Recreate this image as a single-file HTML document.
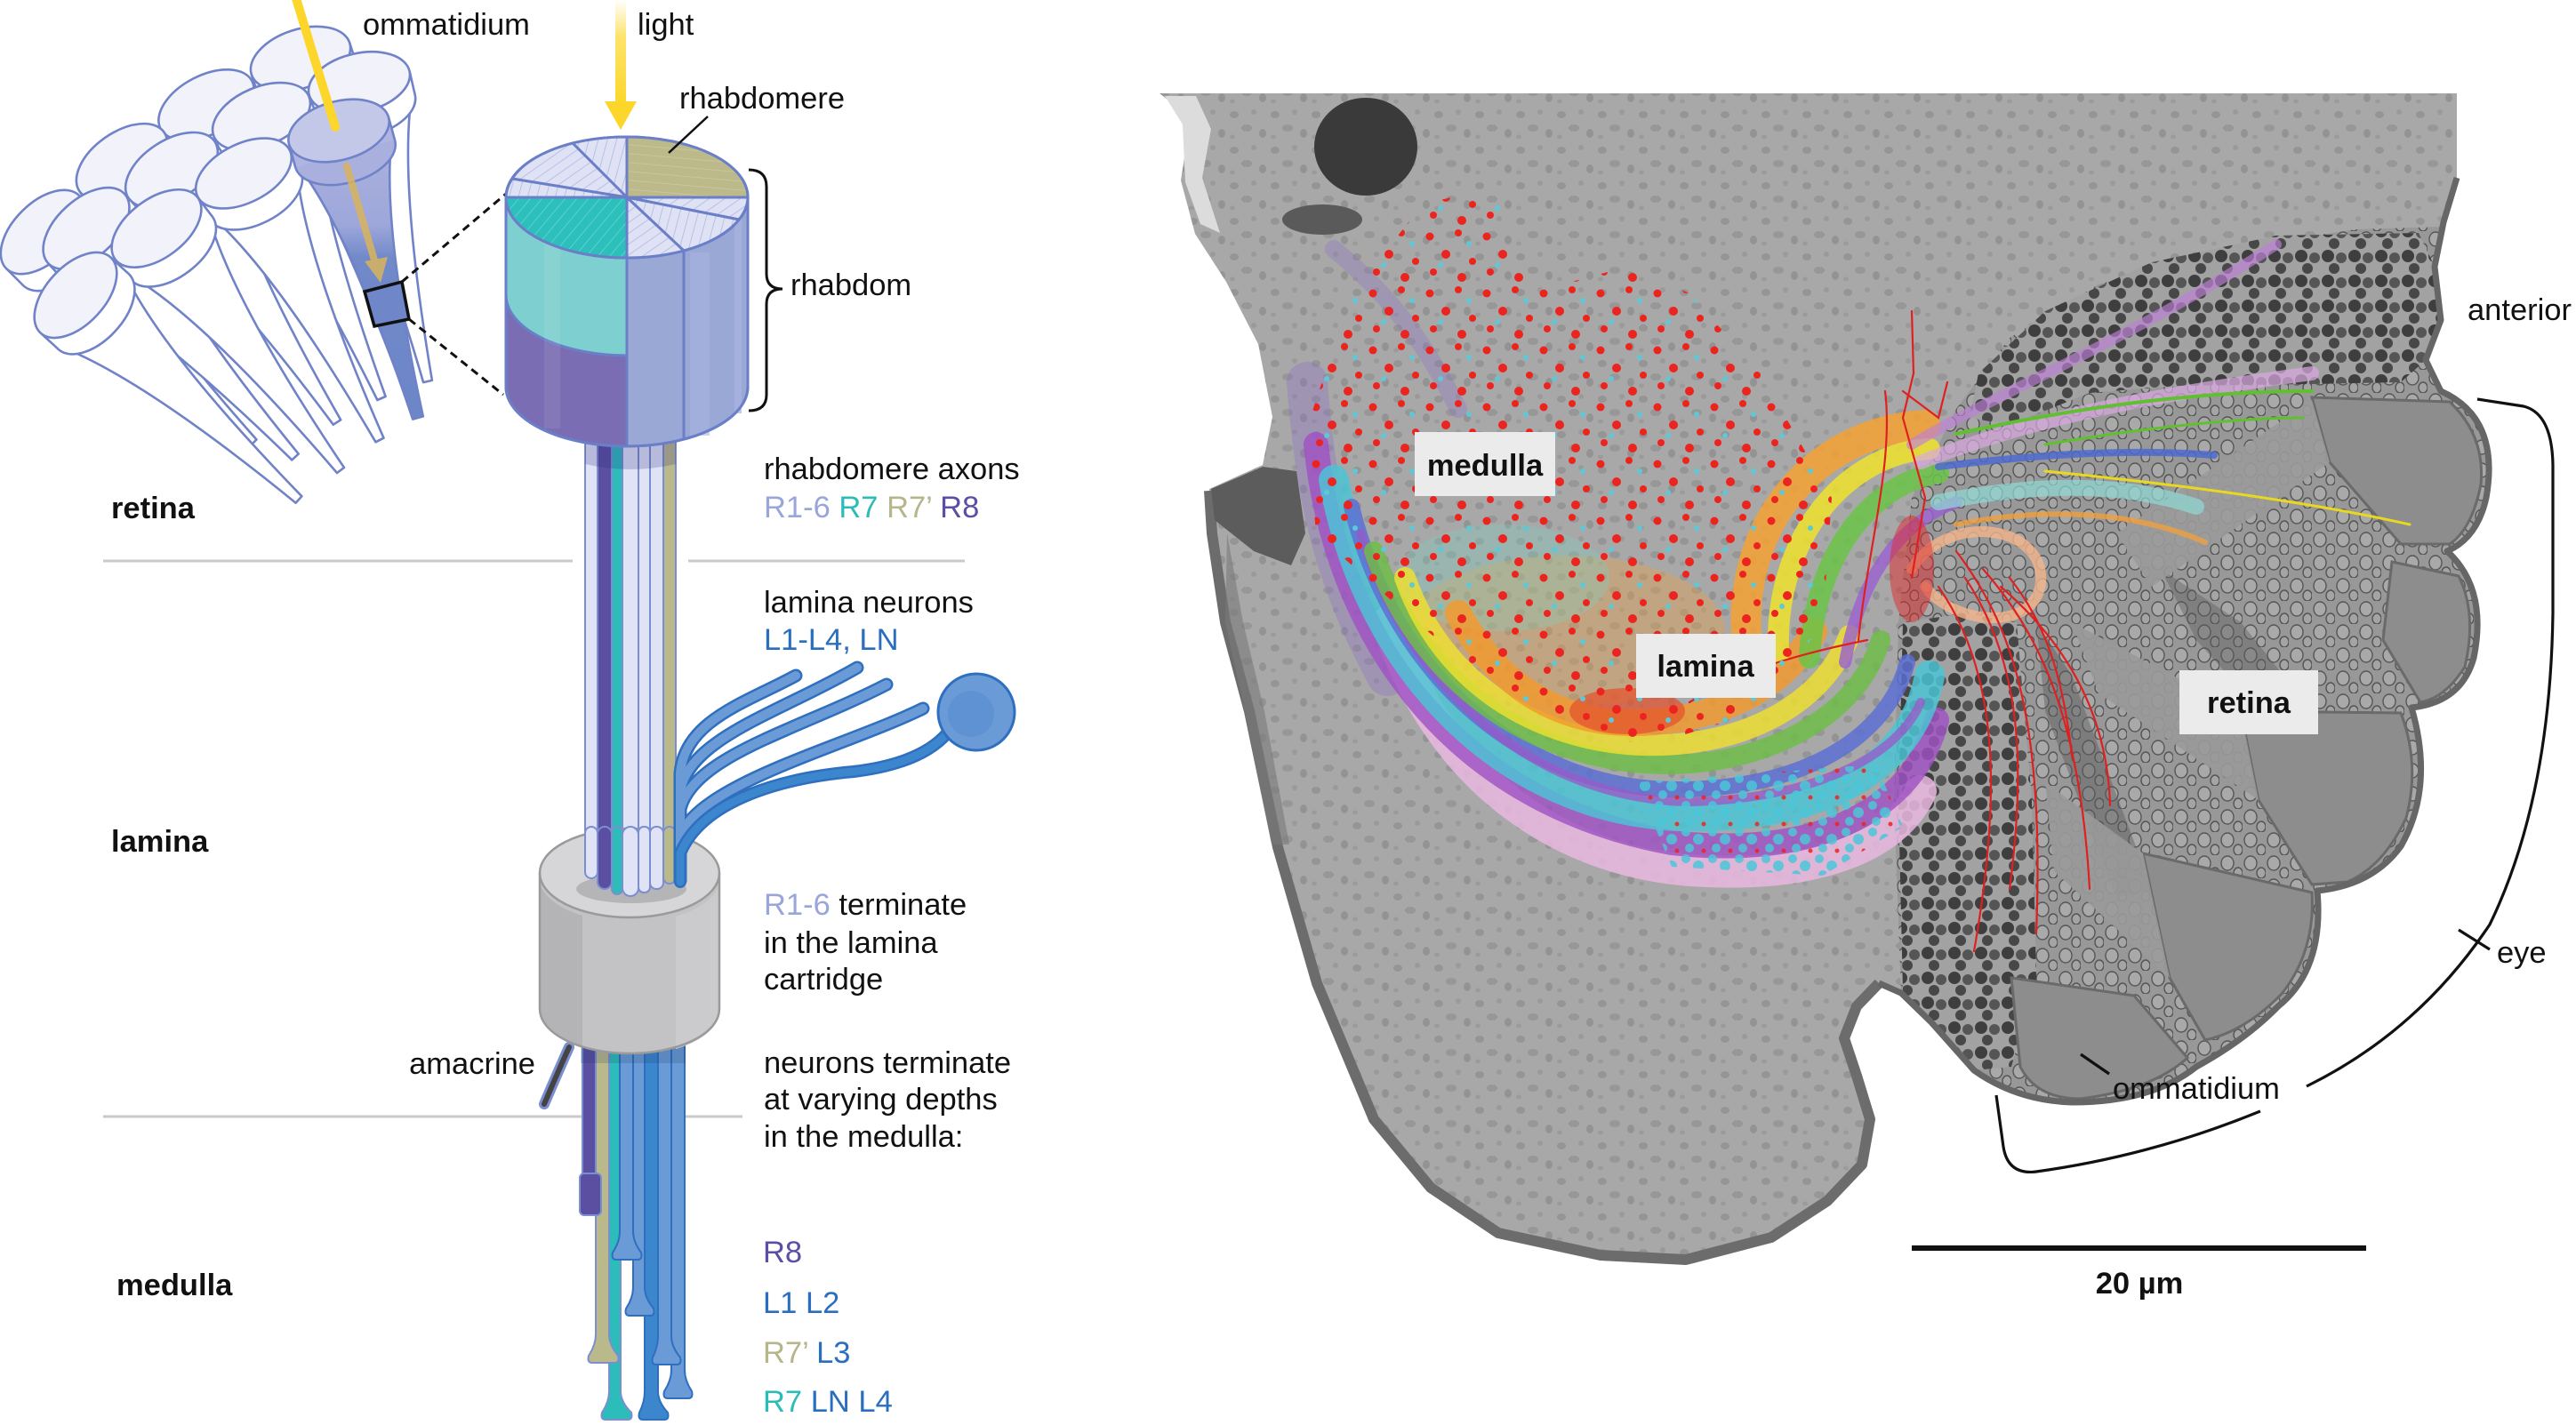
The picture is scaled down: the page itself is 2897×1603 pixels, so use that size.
<!DOCTYPE html>
<html><head><meta charset="utf-8"><style>
html,body{margin:0;padding:0;background:#fff;}
svg{display:block;}
text{font-family:"Liberation Sans",Arial,sans-serif;font-size:34.5px;fill:#111;}
.b{font-weight:bold;}
</style></head><body>
<svg width="2897" height="1603" viewBox="0 0 2897 1603" xmlns="http://www.w3.org/2000/svg">
<defs>
<pattern id="hatch" width="10" height="10" patternUnits="userSpaceOnUse" patternTransform="rotate(55)">
<rect width="10" height="10" fill="#dfe2f4"/><line x1="0" y1="0" x2="0" y2="10" stroke="#b9c0e6" stroke-width="2"/></pattern>
<pattern id="hatch2" width="10" height="10" patternUnits="userSpaceOnUse" patternTransform="rotate(15)">
<rect width="10" height="10" fill="#dfe2f4"/><line x1="0" y1="0" x2="0" y2="10" stroke="#b9c0e6" stroke-width="2"/></pattern>
<pattern id="hatchT" width="10" height="10" patternUnits="userSpaceOnUse" patternTransform="rotate(40)">
<rect width="10" height="10" fill="#2dbfbb"/><line x1="0" y1="0" x2="0" y2="10" stroke="#5cd0cb" stroke-width="2"/></pattern>
<pattern id="hatchO" width="10" height="10" patternUnits="userSpaceOnUse" patternTransform="rotate(95)">
<rect width="10" height="10" fill="#bcba8b"/><line x1="0" y1="0" x2="0" y2="10" stroke="#c8c69b" stroke-width="2"/></pattern>
<linearGradient id="lightg" x1="0" y1="0" x2="0" y2="1">
<stop offset="0" stop-color="#fff"/><stop offset="0.35" stop-color="#fde36a"/><stop offset="1" stop-color="#fcd62a"/></linearGradient>
<linearGradient id="blueOm" x1="0" y1="160" x2="0" y2="470" gradientUnits="userSpaceOnUse">
<stop offset="0" stop-color="#aab1de"/><stop offset="0.3" stop-color="#9ea7da"/><stop offset="0.42" stop-color="#7189c9"/><stop offset="1" stop-color="#6c86c8"/></linearGradient>
<pattern id="emtex" width="46" height="40" patternUnits="userSpaceOnUse">
<ellipse cx="8" cy="9" rx="5" ry="4" fill="#7d7d7d"/><ellipse cx="30" cy="6" rx="3" ry="3" fill="#888"/>
<ellipse cx="22" cy="24" rx="6" ry="4" fill="#828282"/><ellipse cx="40" cy="30" rx="4" ry="5" fill="#7a7a7a"/>
<ellipse cx="6" cy="34" rx="3" ry="2.5" fill="#8a8a8a"/></pattern>
<pattern id="reddots" width="64" height="64" patternUnits="userSpaceOnUse">
<circle cx="8" cy="10" r="4.5" fill="#ec2420"/><circle cx="40" cy="6" r="4" fill="#ec2420"/>
<circle cx="26" cy="30" r="5" fill="#ec2420"/><circle cx="56" cy="38" r="4" fill="#ec2420"/>
<circle cx="12" cy="50" r="4" fill="#ec2420"/><circle cx="44" cy="56" r="5" fill="#ec2420"/>
<circle cx="52" cy="18" r="3" fill="#5cc8d8"/><circle cx="20" cy="42" r="3" fill="#5cc8d8"/></pattern>
<pattern id="cyandots" width="30" height="30" patternUnits="userSpaceOnUse">
<circle cx="6" cy="6" r="5" fill="#4cc6d8"/><circle cx="20" cy="14" r="6" fill="#4cc6d8"/><circle cx="10" cy="24" r="5" fill="#4cc6d8"/><circle cx="26" cy="27" r="2.5" fill="#ec2420"/></pattern>
<pattern id="pig" width="30" height="28" patternUnits="userSpaceOnUse">
<rect width="30" height="28" fill="#a2a2a2"/>
<circle cx="8" cy="8" r="7" fill="#3e3e3e"/><circle cx="23" cy="10" r="6" fill="#555"/><circle cx="15" cy="22" r="6" fill="#474747"/></pattern>
<pattern id="cells" width="26" height="26" patternUnits="userSpaceOnUse">
<rect width="26" height="26" fill="#989898"/>
<ellipse cx="9" cy="9" rx="7" ry="8" fill="#a9a9a9" stroke="#555" stroke-width="1.4"/>
<ellipse cx="21" cy="20" rx="5" ry="6" fill="#a4a4a4" stroke="#555" stroke-width="1.4"/></pattern>
</defs>

<!-- ================= LEFT PANEL ================= -->
<g stroke="#cacaca" stroke-width="3">
<line x1="116" y1="631" x2="644" y2="631"/><line x1="774" y1="631" x2="1085" y2="631"/>
<line x1="116" y1="1256" x2="655" y2="1256"/><line x1="770" y1="1256" x2="835" y2="1256"/>
</g>

<!-- ommatidia cluster -->
<g stroke="#7083c8" stroke-width="2.6" stroke-linejoin="round">
<!-- A -->
<g>
<path d="M295.6,110.4 Q360.1,193.7 445.2,416.5 L454.8,413.5 Q394.3,182.7 398.4,77.4 Z" fill="#fff"/>
<ellipse cx="347" cy="93.9" rx="58" ry="33" transform="rotate(-18 347 93.9)" fill="#fff"/>
<polygon points="282.8,83.7 291.8,111.6 402.2,76.2 393.2,48.3" fill="#fff" stroke="none"/>
<line x1="282.8" y1="83.7" x2="291.8" y2="111.6"/><line x1="393.2" y1="48.3" x2="402.2" y2="76.2"/>
<ellipse cx="338" cy="66" rx="58" ry="33" transform="rotate(-18 338 66)" fill="#f2f3fa"/>
</g>
<!-- B -->
<g>
<path d="M357.5,131.9 Q413.4,214.6 476.1,430.1 L485.9,427.9 Q448.6,206.6 462.9,107.9 Z" fill="#fff"/>
<ellipse cx="410.2" cy="119.9" rx="58" ry="33" transform="rotate(-13 410.2 119.9)" fill="#fff"/>
<polygon points="347.4,105.9 353.6,132.8 466.8,107 460.6,80.1" fill="#fff" stroke="none"/>
<line x1="347.4" y1="105.9" x2="353.6" y2="132.8"/><line x1="460.6" y1="80.1" x2="466.8" y2="107"/>
<ellipse cx="404" cy="93" rx="58" ry="33" transform="rotate(-13 404 93)" fill="#f2f3fa"/>
</g>
<!-- C -->
<g>
<path d="M197.5,168.8 Q274.8,239 395.6,442.3 L404.4,437.7 Q306.8,222.4 293.3,118.8 Z" fill="#fff"/>
<ellipse cx="245.4" cy="143.8" rx="58" ry="33" transform="rotate(-27.6 245.4 143.8)" fill="#fff"/>
<polygon points="180.6,144.9 194,170.7 296.8,116.9 283.4,91.1" fill="#fff" stroke="none"/>
<line x1="180.6" y1="144.9" x2="194" y2="170.7"/><line x1="283.4" y1="91.1" x2="296.8" y2="116.9"/>
<ellipse cx="232" cy="118" rx="58" ry="33" transform="rotate(-27.6 232 118)" fill="#f2f3fa"/>
</g>
<!-- D -->
<g>
<path d="M255.1,177.6 Q324.7,249.1 424.4,450 L433.6,446 Q357.9,234.9 354.5,135.2 Z" fill="#fff"/>
<ellipse cx="304.8" cy="156.4" rx="58" ry="33" transform="rotate(-23 304.8 156.4)" fill="#fff"/>
<polygon points="240.6,153.7 251.4,179.1 358.2,133.7 347.4,108.3" fill="#fff" stroke="none"/>
<line x1="240.6" y1="153.7" x2="251.4" y2="179.1"/><line x1="347.4" y1="108.3" x2="358.2" y2="133.7"/>
<ellipse cx="294" cy="131" rx="58" ry="33" transform="rotate(-23 294 131)" fill="#f2f3fa"/>
</g>
<!-- F -->
<g>
<path d="M109.1,236.1 Q193.3,293.2 335.9,472.9 L344.1,467.1 Q222.7,272.4 197.3,173.9 Z" fill="#fff"/>
<ellipse cx="153.2" cy="205" rx="58" ry="33" transform="rotate(-35 153.2 205)" fill="#fff"/>
<polygon points="89.6,215.4 105.8,238.4 200.6,171.6 184.4,148.6" fill="#fff" stroke="none"/>
<line x1="89.6" y1="215.4" x2="105.8" y2="238.4"/><line x1="184.4" y1="148.6" x2="200.6" y2="171.6"/>
<ellipse cx="137" cy="182" rx="58" ry="33" transform="rotate(-35 137 182)" fill="#f2f3fa"/>
</g>
<!-- G -->
<g>
<path d="M162.7,243.3 Q243,300.3 374.8,477.7 L383.2,472.3 Q273.2,280.5 253.1,184.1 Z" fill="#fff"/>
<ellipse cx="207.9" cy="213.7" rx="58" ry="33" transform="rotate(-33 207.9 213.7)" fill="#fff"/>
<polygon points="144.5,222.8 159.4,245.5 256.4,181.9 241.5,159.2" fill="#fff" stroke="none"/>
<line x1="144.5" y1="222.8" x2="159.4" y2="245.5"/><line x1="241.5" y1="159.2" x2="256.4" y2="181.9"/>
<ellipse cx="193" cy="191" rx="58" ry="33" transform="rotate(-33 193 191)" fill="#f2f3fa"/>
</g>
<!-- H -->
<g>
<path d="M238.1,243.5 Q311.6,308.2 422.5,497.3 L431.5,492.7 Q343.6,291.8 334.3,194.5 Z" fill="#fff"/>
<ellipse cx="286.2" cy="219" rx="58" ry="33" transform="rotate(-27 286.2 219)" fill="#fff"/>
<polygon points="222.3,221.3 234.5,245.3 337.9,192.7 325.7,168.7" fill="#fff" stroke="none"/>
<line x1="222.3" y1="221.3" x2="234.5" y2="245.3"/><line x1="325.7" y1="168.7" x2="337.9" y2="192.7"/>
<ellipse cx="274" cy="195" rx="58" ry="33" transform="rotate(-27 274 195)" fill="#f2f3fa"/>
</g>
<!-- E blue -->
<g>
<path d="M336,187.2 Q394.8,264.8 464.2,471.6 L475.8,468.4 Q429.6,255.2 440.2,158.4 Z" fill="url(#blueOm)"/>
<ellipse cx="388.1" cy="172.8" rx="58" ry="33" transform="rotate(-15 388.1 172.8)" fill="#a9b0de"/>
<polygon points="325.1,162.4 332.2,188.2 444,157.4 436.9,131.6" fill="#afb5e0" stroke="none"/>
<line x1="325.1" y1="162.4" x2="332.2" y2="188.2"/><line x1="436.9" y1="131.6" x2="444" y2="157.4"/>
<ellipse cx="381" cy="147" rx="58" ry="33" transform="rotate(-15 381 147)" fill="#c3c8e8"/>
</g>
<!-- I -->
<g>
<path d="M28.8,318.2 Q118.3,356.7 281.5,501.5 L288.5,494.5 Q143.7,331.3 105.2,241.8 Z" fill="#fff"/>
<ellipse cx="67" cy="280" rx="58" ry="33" transform="rotate(-45 67 280)" fill="#fff"/>
<polygon points="7,302 26,321 108,239 89,220" fill="#fff" stroke="none"/>
<line x1="7" y1="302" x2="26" y2="321"/><line x1="89" y1="220" x2="108" y2="239"/>
<ellipse cx="48" cy="261" rx="58" ry="33" transform="rotate(-45 48 261)" fill="#f2f3fa"/>
</g>
<!-- J -->
<g>
<path d="M75.9,314.1 Q166,359.2 328.3,517.4 L335.7,510.6 Q192.6,334.8 155.7,241.1 Z" fill="#fff"/>
<ellipse cx="115.8" cy="277.6" rx="58" ry="33" transform="rotate(-42 115.8 277.6)" fill="#fff"/>
<polygon points="54.2,296.2 73,316.8 158.6,238.4 139.8,217.8" fill="#fff" stroke="none"/>
<line x1="54.2" y1="296.2" x2="73" y2="316.8"/><line x1="139.8" y1="217.8" x2="158.6" y2="238.4"/>
<ellipse cx="97" cy="257" rx="58" ry="33" transform="rotate(-42 97 257)" fill="#f2f3fa"/>
</g>
<!-- K -->
<g>
<path d="M149.6,311.5 Q234.2,363.1 379,532 L387,526 Q262.8,341.3 235.6,246.1 Z" fill="#fff"/>
<ellipse cx="192.6" cy="278.8" rx="58" ry="33" transform="rotate(-37 192.6 278.8)" fill="#fff"/>
<polygon points="129.8,292.1 146.4,313.9 238.8,243.7 222.2,221.9" fill="#fff" stroke="none"/>
<line x1="129.8" y1="292.1" x2="146.4" y2="313.9"/><line x1="222.2" y1="221.9" x2="238.8" y2="243.7"/>
<ellipse cx="176" cy="257" rx="58" ry="33" transform="rotate(-37 176 257)" fill="#f2f3fa"/>
</g>
<!-- L -->
<g>
<path d="M68.6,390.2 Q160.7,425.8 332.6,565.7 L339.4,558.3 Q185.1,399.2 141.6,310.6 Z" fill="#fff"/>
<ellipse cx="105.1" cy="350.4" rx="58" ry="33" transform="rotate(-47 105.1 350.4)" fill="#fff"/>
<polygon points="45.8,374.7 65.9,393.1 144.3,307.7 124.2,289.3" fill="#fff" stroke="none"/>
<line x1="45.8" y1="374.7" x2="65.9" y2="393.1"/><line x1="124.2" y1="289.3" x2="144.3" y2="307.7"/>
<ellipse cx="85" cy="332" rx="58" ry="33" transform="rotate(-47 85 332)" fill="#f2f3fa"/>
</g>
</g>
<!-- light ray into ommatidium -->
<line x1="332" y1="-5" x2="377" y2="143" stroke="#fcd62a" stroke-width="10" stroke-linecap="round"/>
<g opacity="0.85">
<line x1="390" y1="187" x2="422" y2="296" stroke="#d9b45c" stroke-width="8" stroke-linecap="round"/>
<polygon points="410,294 436,289 428,318" fill="#d9b45c"/>
</g>
<polygon points="410,328 452,317 460,359 421,367" fill="#6f86c8" stroke="#111" stroke-width="3.5"/>
<g stroke="#111" stroke-width="3" stroke-dasharray="9,6">
<line x1="452" y1="317" x2="569" y2="218"/><line x1="460" y1="359" x2="566" y2="444"/>
</g>

<!-- light arrow -->
<rect x="692" y="0" width="12" height="118" fill="url(#lightg)"/>
<polygon points="680,114 716,114 698,146" fill="#fcd62a"/>

<!-- axon bundle (upper) -->
<g stroke="#7a8ed0" stroke-width="2">
<rect x="658" y="470" width="14" height="518" rx="7" fill="#e0e3f5"/>
<rect x="672" y="470" width="16" height="530" rx="8" fill="#5a4fa0"/>
<rect x="688" y="470" width="12" height="536" rx="6" fill="#2cbdbb"/>
<rect x="700" y="470" width="18" height="538" rx="9" fill="#e0e3f5"/>
<rect x="718" y="470" width="13" height="534" rx="6" fill="#e0e3f5"/>
<rect x="731" y="470" width="15" height="530" rx="7" fill="#e0e3f5"/>
<rect x="746" y="470" width="14" height="524" rx="7" fill="#bab98b"/>
</g>
<path d="M658,498 L760,498 L760,522 Q709,534 658,522 Z" fill="#2b2b80" opacity="0.22"/>

<!-- rhabdom cylinder -->
<g stroke="#6a7fc8" stroke-width="3" stroke-linejoin="round">
<path d="M705,290 A136,68 0 0,0 841,222 L841,435 A136,67 0 0,1 705,502 Z" fill="#9aa8d6"/>
<path d="M569,222 A136,68 0 0,0 705,290 L705,400 A136,68 0 0,1 569,332 Z" fill="#7ecfcf"/>
<path d="M569,332 A136,68 0 0,0 705,400 L705,502 A136,67 0 0,1 569,435 Z" fill="#7a6db3"/>
</g>
<rect x="776" y="284" width="22" height="206" fill="#a9b4df" opacity="0.6"/>
<rect x="826" y="245" width="8" height="220" fill="#a9b4df" opacity="0.7"/>
<rect x="612" y="272" width="18" height="210" fill="#ffffff" opacity="0.08"/>
<g stroke="#6a7fc8" stroke-width="3" fill="none">
<line x1="769" y1="282" x2="769" y2="494"/>
<path d="M569,222 A136,68 0 0,1 841,222 L841,435 A136,67 0 0,1 569,435 Z"/>
</g>
<g stroke="#6a7fc8" stroke-width="3" stroke-linejoin="round">
<path d="M705,222 L705,154 A136,68 0 0,1 841,222 Z" fill="url(#hatchO)"/>
<path d="M705,222 L569,222 A136,68 0 0,0 705,290 Z" fill="url(#hatchT)"/>
<path d="M705,222 L705,154 A136,68 0 0,0 644,161 Z" fill="url(#hatch2)"/>
<path d="M705,222 L644,161 A136,68 0 0,0 576,201 Z" fill="url(#hatch)"/>
<path d="M705,222 L576,201 A136,68 0 0,0 569,222 Z" fill="url(#hatch2)"/>
<path d="M705,222 L841,222 A136,68 0 0,1 831,247 Z" fill="url(#hatch)"/>
<path d="M705,222 L831,247 A136,68 0 0,1 769,282 Z" fill="url(#hatch2)"/>
<path d="M705,222 L769,282 A136,68 0 0,1 705,290 Z" fill="url(#hatch)"/>
</g>
<line x1="796" y1="131" x2="752" y2="172" stroke="#111" stroke-width="2.5"/>
<path d="M842,191 Q862,191 862,210 L862,308 Q862,325 880,325 M880,325 Q862,325 862,342 L862,444 Q862,462 842,462" fill="none" stroke="#111" stroke-width="3"/>

<!-- medulla strands -->
<path d="M640,1178 Q630,1200 612,1242" fill="none" stroke="#7a8ed0" stroke-width="12" stroke-linecap="round"/>
<path d="M640,1178 Q630,1200 612,1242" fill="none" stroke="#444" stroke-width="6" stroke-linecap="round"/>
<g stroke="#2f6fc0" stroke-width="2" stroke-linejoin="round">
<path d="M685,1100 L685,1565 Q685,1577 677,1589 Q675,1597 681,1597 L706,1597 Q712,1597 710,1589 Q698,1577 698,1565 L698,1100 Z" fill="#2cbdbb" stroke="#7a8ed0"/>
<path d="M725,1100 L725,1565 Q725,1577 719,1589 Q717,1597 723,1597 L747,1597 Q753,1597 751,1589 Q740,1577 740,1565 L740,1100 Z" fill="#3b86cc"/>
<path d="M755,1100 L755,1541 Q755,1553 747,1565 Q745,1573 751,1573 L774,1573 Q780,1573 778,1565 Q770,1553 770,1541 L770,1100 Z" fill="#6b9bd6"/>
<path d="M740,1100 L740,1503 Q740,1515 734,1527 Q732,1535 738,1535 L761,1535 Q767,1535 765,1527 Q755,1515 755,1503 L755,1100 Z" fill="#6b9bd6"/>
<path d="M670,1100 L670,1501 Q670,1513 662,1525 Q660,1533 666,1533 L691,1533 Q697,1533 695,1525 Q685,1513 685,1501 L685,1100 Z" fill="#bab98b" stroke="#7a8ed0"/>
<path d="M712,1100 L712,1448 Q712,1460 704,1472 Q702,1480 708,1480 L731,1480 Q737,1480 735,1472 Q725,1460 725,1448 L725,1100 Z" fill="#6b9bd6"/>
<path d="M697,1100 L697,1385 Q697,1397 689,1409 Q687,1417 693,1417 L717,1417 Q723,1417 721,1409 Q712,1397 712,1385 L712,1100 Z" fill="#6b9bd6"/>
<path d="M655,1100 L655,1322 L670,1322 L670,1100 Z" fill="#5a4fa0" stroke="#7a8ed0"/>
<rect x="652" y="1320" width="24" height="47" rx="5" fill="#5a4fa0" stroke="#7a8ed0"/>
</g>
<rect x="653" y="1150" width="118" height="46" fill="#1a3060" opacity="0.18"/>

<!-- lamina cartridge -->
<path d="M607,982 L607,1135 A101,50 0 0,0 809,1135 L809,982 Z" fill="#c3c3c5"/>
<path d="M607,982 L607,1135 A101,50 0 0,0 655,1178 L655,1030 A101,50 0 0,1 607,982 Z" fill="#b4b4b6"/>
<path d="M760,1031 L760,1180 A101,50 0 0,0 809,1135 L809,982 A101,50 0 0,1 760,1031 Z" fill="#cbcbcd"/>
<path d="M607,982 L607,1135 A101,50 0 0,0 809,1135 L809,982" fill="none" stroke="#9a9a9a" stroke-width="2.5"/>
<ellipse cx="708" cy="982" rx="101" ry="50" fill="#d6d6d8" stroke="#9a9a9a" stroke-width="2.5"/>
<ellipse cx="710" cy="1000" rx="62" ry="16" fill="#b5b5b7"/>

<g stroke="#7a8ed0" stroke-width="2">
<rect x="658" y="930" width="14" height="58" rx="7" fill="#e0e3f5"/>
<rect x="672" y="930" width="16" height="70" rx="8" fill="#5a4fa0"/>
<rect x="688" y="930" width="12" height="76" rx="6" fill="#2cbdbb"/>
<rect x="700" y="930" width="18" height="78" rx="9" fill="#e0e3f5"/>
<rect x="718" y="930" width="13" height="74" rx="6" fill="#e0e3f5"/>
<rect x="731" y="930" width="15" height="70" rx="7" fill="#e0e3f5"/>
<rect x="746" y="930" width="14" height="64" rx="7" fill="#bab98b"/>
</g>

<!-- lamina neuron tubes -->
<g fill="none" stroke-linecap="round">
<g stroke="#2f6fc0" stroke-width="15">
<path d="M765,990 L765,870 C770,810 840,790 895,760"/>
<path d="M765,990 L765,890 C775,830 880,800 964,751"/>
<path d="M765,990 L765,910 C780,850 900,820 997,770"/>
<path d="M765,990 L765,940 C790,880 950,840 1038,797"/>
</g>
<g stroke="#6b9bd6" stroke-width="10">
<path d="M765,990 L765,870 C770,810 840,790 895,760"/>
<path d="M765,990 L765,890 C775,830 880,800 964,751"/>
<path d="M765,990 L765,910 C780,850 900,820 997,770"/>
<path d="M765,990 L765,940 C790,880 950,840 1038,797"/>
</g>
<path d="M765,992 L765,960 C790,900 880,875 960,868 C1010,862 1045,848 1065,825" stroke="#2f6fc0" stroke-width="14"/>
<path d="M765,992 L765,960 C790,900 880,875 960,868 C1010,862 1045,848 1065,825" stroke="#3b86cc" stroke-width="9"/>
</g>
<circle cx="1098" cy="801" r="43" fill="#6b9bd6" stroke="#2f6fc0" stroke-width="3"/>
<circle cx="1092" cy="803" r="26" fill="#5f92d2"/>

<!-- left text -->
<text x="408" y="39">ommatidium</text>
<text x="717" y="39">light</text>
<text x="764" y="122">rhabdomere</text>
<text x="889" y="332">rhabdom</text>
<text x="125" y="583" class="b">retina</text>
<text x="859" y="539">rhabdomere axons</text>
<text x="859" y="582"><tspan style="fill:#9aa5d9">R1-6</tspan> <tspan style="fill:#2cbcb8">R7</tspan> <tspan style="fill:#b6b58c">R7’</tspan> <tspan style="fill:#5b4ea6">R8</tspan></text>
<text x="859" y="689">lamina neurons</text>
<text x="859" y="731" style="fill:#2a6ebf">L1-L4, LN</text>
<text x="125" y="958" class="b">lamina</text>
<text x="859" y="1029"><tspan style="fill:#9aa5d9">R1-6</tspan> terminate</text>
<text x="859" y="1072">in the lamina</text>
<text x="859" y="1113">cartridge</text>
<text x="602" y="1208" text-anchor="end">amacrine</text>
<text x="859" y="1207">neurons terminate</text>
<text x="859" y="1248">at varying depths</text>
<text x="859" y="1290">in the medulla:</text>
<text x="131" y="1457" class="b">medulla</text>
<text x="858" y="1420" style="fill:#5b4ea6">R8</text>
<text x="858" y="1477" style="fill:#2a6ebf">L1 L2</text>
<text x="858" y="1533"><tspan style="fill:#b6b58c">R7’</tspan> <tspan style="fill:#2a6ebf">L3</tspan></text>
<text x="858" y="1588"><tspan style="fill:#2cbcb8">R7</tspan> <tspan style="fill:#2a6ebf">LN L4</tspan></text>

<!-- ================= RIGHT PANEL (EM) ================= -->
<path d="M1304,105 L2763,105 L2763,200 L2748,250 L2738,300 L2745,360 L2728,405 L2745,440 Q2812,470 2796,560 Q2786,605 2752,620 Q2798,662 2782,740 Q2768,790 2712,796 Q2738,885 2700,952 Q2668,996 2606,1002 Q2614,1090 2562,1132 Q2525,1170 2470,1200 Q2420,1240 2330,1240 Q2268,1238 2220,1204 L2172,1150 L2138,1117 L2113,1106 L2088,1132 L2074,1168 L2088,1210 L2103,1259 L2094,1310 L2055,1351 L1992,1392 L1896,1417 L1800,1412 L1685,1387 L1609,1336 L1545,1259 L1481,1106 L1437,953 L1405,800 L1378,700 L1363,600 L1360,550 L1420,523 L1431,469 L1415,387 L1379,317 L1344,263 L1328,203 L1339,133 Z" fill="#a8a8a8"/>
<path d="M1304,105 L2763,105 L2763,200 L2748,250 L2738,300 L2745,360 L2728,405 L2745,440 Q2812,470 2796,560 Q2786,605 2752,620 Q2798,662 2782,740 Q2768,790 2712,796 Q2738,885 2700,952 Q2668,996 2606,1002 Q2614,1090 2562,1132 Q2525,1170 2470,1200 Q2420,1240 2330,1240 Q2268,1238 2220,1204 L2172,1150 L2138,1117 L2113,1106 L2088,1132 L2074,1168 L2088,1210 L2103,1259 L2094,1310 L2055,1351 L1992,1392 L1896,1417 L1800,1412 L1685,1387 L1609,1336 L1545,1259 L1481,1106 L1437,953 L1405,800 L1378,700 L1363,600 L1360,550 L1420,523 L1431,469 L1415,387 L1379,317 L1344,263 L1328,203 L1339,133 Z" fill="url(#emtex)" opacity="0.45"/>
<path d="M1360,552 L1363,600 L1378,700 L1405,800 L1437,953 L1481,1106 L1545,1259 L1609,1336 L1685,1387 L1800,1412 L1896,1417 L1992,1392 L2055,1351 L2094,1310 L2103,1259 L2088,1210 L2074,1168 L2088,1132 L2113,1106" fill="none" stroke="#6c6c6c" stroke-width="12" stroke-linejoin="round"/>
<path d="M1310,108 L1345,108 L1362,145 L1352,200 L1372,262 L1350,252 L1333,205 L1330,140 Z" fill="#dcdcdc"/>
<ellipse cx="1536" cy="165" rx="58" ry="55" fill="#3a3a3a"/>
<ellipse cx="1487" cy="247" rx="45" ry="17" fill="#5a5a5a"/>
<path d="M1362,550 L1420,525 L1458,530 L1468,600 L1452,636 L1410,620 L1366,585 Z" fill="#5c5c5c"/>
<path d="M1380,600 L1398,700 L1422,800 L1450,950 L1430,950 L1400,800 L1378,700 Z" fill="#7a7a7a" opacity="0.6"/>

<!-- retina region -->
<path d="M2150,560 L2200,460 L2260,380 L2360,320 L2500,280 L2650,258 L2745,255 L2738,300 L2745,360 L2728,405 L2745,440 Q2812,470 2796,560 Q2786,605 2752,620 Q2798,662 2782,740 Q2768,790 2712,796 Q2738,885 2700,952 Q2668,996 2606,1002 Q2614,1090 2562,1132 Q2525,1170 2470,1200 Q2420,1240 2330,1240 Q2268,1238 2220,1204 L2172,1150 L2138,1117 L2130,900 L2135,700 Z" fill="url(#cells)"/>
<path d="M2215,470 L2225,420 L2300,350 L2420,295 L2560,265 L2720,262 L2738,300 L2745,360 L2728,405 L2700,430 L2600,432 L2450,434 L2350,442 L2260,478 Z" fill="url(#pig)"/>
<path d="M2140,700 L2210,690 L2268,700 L2285,900 L2290,1100 L2262,1200 L2220,1204 L2172,1150 L2140,1117 L2135,900 Z" fill="url(#pig)"/>
<path d="M2290,700 L2330,760 L2420,1000 L2380,1010 L2300,800 Z" fill="#5a5a5a" opacity="0.45"/>
<path d="M2430,640 L2520,700 L2600,800 L2560,820 L2470,720 Z" fill="#5a5a5a" opacity="0.4"/>
<g fill="#8d8d8d" stroke="#6a6a6a" stroke-width="3">
<path d="M2600,447 L2755,452 Q2795,490 2790,545 Q2780,595 2755,612 L2700,612 L2620,520 Z"/>
<path d="M2690,632 L2765,648 Q2786,690 2772,750 Q2750,785 2722,790 L2680,720 Z"/>
<path d="M2520,800 L2700,802 Q2722,860 2706,920 Q2680,975 2640,992 L2600,995 L2540,900 Z"/>
<path d="M2410,960 L2600,1004 Q2604,1070 2566,1118 Q2525,1160 2480,1170 L2440,1100 Z"/>
<path d="M2262,1100 L2400,1120 L2460,1190 Q2420,1226 2340,1236 Q2290,1236 2272,1200 Z"/>
</g>
<g fill="#9a9a9a" opacity="0.9">
<path d="M2380,600 L2600,450 L2620,520 L2420,660 Z"/>
<path d="M2330,700 L2520,800 L2540,900 L2360,780 Z"/>
<path d="M2300,880 L2410,960 L2440,1100 L2310,980 Z"/>
</g>
<path d="M2763,200 L2748,250 L2738,300 L2745,360 L2728,405 L2745,440 Q2812,470 2796,560 Q2786,605 2752,620 Q2798,662 2782,740 Q2768,790 2712,796 Q2738,885 2700,952 Q2668,996 2606,1002 Q2614,1090 2562,1132 Q2525,1170 2470,1200 Q2420,1240 2330,1240 Q2268,1238 2220,1204 L2172,1150 L2138,1117 L2113,1106" fill="none" stroke="#666" stroke-width="7" stroke-linejoin="round"/>

<!-- neuron tracing overlay -->
<g fill="none" stroke-linecap="round">
<path d="M1470,430 C1480,560 1500,650 1560,760" stroke="#8a68c8" stroke-width="46" opacity="0.3"/>
<path d="M1500,280 C1560,330 1600,380 1640,460" stroke="#8a68c8" stroke-width="20" opacity="0.28"/>
<ellipse cx="1760" cy="710" rx="180" ry="85" fill="#f0a040" opacity="0.35" stroke="none"/>
<ellipse cx="1690" cy="650" rx="120" ry="60" fill="#7ccfbf" opacity="0.3" stroke="none"/>
<path d="M1560,700 C1620,880 1760,975 1920,980 C2040,985 2130,955 2160,890" stroke="#e9b9e0" stroke-width="36" opacity="0.85"/>
<path d="M1480,500 C1500,700 1620,900 1880,948 C2030,965 2150,920 2178,810" stroke="#a052c4" stroke-width="28" opacity="0.82"/>
<path d="M1500,540 C1540,760 1700,912 1890,918 C2040,922 2150,870 2170,760" stroke="#4ac6d6" stroke-width="34" opacity="0.82"/>
<path d="M1520,570 C1570,770 1720,885 1880,888 C2010,890 2120,840 2145,745" stroke="#5a6fd6" stroke-width="18" opacity="0.82"/>
<path d="M1530,600 C1590,790 1740,900 1900,902 C2020,900 2130,860 2160,790" stroke="#9a58c8" stroke-width="10" opacity="0.75"/>
<path d="M1545,620 C1600,780 1740,862 1880,860 C1990,858 2090,805 2115,720" stroke="#6dbe46" stroke-width="22" opacity="0.82"/>
<path d="M1580,650 C1630,790 1760,842 1870,838 C1970,834 2050,790 2080,715" stroke="#efe030" stroke-width="24" opacity="0.82"/>
<path d="M1640,690 C1700,800 1790,818 1860,812 C1940,806 2010,770 2040,710" stroke="#f39a2c" stroke-width="30" opacity="0.82"/>
<ellipse cx="1830" cy="800" rx="65" ry="26" fill="#e6502a" opacity="0.7" stroke="none"/>
<path d="M1965,730 C1950,580 2050,485 2165,478" stroke="#f4a233" stroke-width="34" opacity="0.85"/>
<path d="M2000,735 C1995,600 2080,510 2170,505" stroke="#f0e22e" stroke-width="24" opacity="0.85"/>
<path d="M2035,740 C2040,630 2100,545 2180,532" stroke="#6cc448" stroke-width="24" opacity="0.85"/>
<path d="M2075,745 C2090,660 2130,590 2200,565" stroke="#9a60d0" stroke-width="14" opacity="0.8"/>
<path d="M2150,500 C2250,440 2400,380 2560,275" stroke="#c080d8" stroke-width="12" opacity="0.65"/>
<path d="M2160,520 C2300,465 2450,440 2600,420" stroke="#d9a8e0" stroke-width="16" opacity="0.7"/>
<path d="M2200,488 C2350,455 2480,440 2600,440" stroke="#60c030" stroke-width="4"/>
<path d="M2300,500 C2420,480 2520,470 2590,470" stroke="#60c030" stroke-width="3"/>
<path d="M2180,525 C2300,510 2400,505 2490,512" stroke="#4f6ad0" stroke-width="8" opacity="0.85"/>
<path d="M2180,565 C2280,545 2380,540 2470,570" stroke="#8fdad6" stroke-width="18" opacity="0.7"/>
<path d="M2300,530 C2450,545 2600,565 2710,590" stroke="#e8d820" stroke-width="3"/>
<path d="M2200,590 C2300,570 2400,575 2480,610" stroke="#f0a040" stroke-width="6" opacity="0.8"/>
<path d="M2150,640 C2190,575 2300,590 2295,655 C2290,710 2200,705 2165,660" stroke="#f4b48c" stroke-width="12" opacity="0.8"/>
<ellipse cx="2150" cy="640" rx="25" ry="60" fill="#e02a2a" opacity="0.5" stroke="none"/>
<g stroke="#e02020" stroke-width="2.2">
<path d="M2200,620 C2260,700 2300,800 2290,1050"/>
<path d="M2230,640 C2300,720 2340,820 2350,1000"/>
<path d="M2250,660 C2320,720 2370,800 2373,906"/>
<path d="M2180,660 C2250,760 2250,900 2220,1070"/>
<path d="M2260,650 C2300,700 2320,760 2330,850"/>
<path d="M2210,650 C2270,740 2280,850 2260,1000"/>
<path d="M2120,440 C2130,520 2100,620 2090,720"/>
<path d="M2150,350 L2152,420 L2140,470 L2165,560 L2150,650"/>
<path d="M2140,440 L2180,470 L2190,430"/>
<path d="M2100,720 C2000,740 1950,760 1900,790"/>
</g>
</g>
<path d="M1470,480 L1520,330 L1600,230 L1680,210 L1720,330 L1830,300 L1900,330 L1980,420 L2060,560 L2050,700 L1980,800 L1850,840 L1700,790 L1570,680 L1480,600 Z" fill="url(#reddots)"/>
<path d="M1840,880 L2110,860 L2140,930 L2050,985 L1880,975 Z" fill="url(#cyandots)" opacity="0.85"/>

<!-- label boxes -->
<rect x="1591" y="486" width="158" height="72" fill="#ebebeb"/>
<text x="1670" y="535" text-anchor="middle" class="b">medulla</text>
<rect x="1840" y="713" width="157" height="72" fill="#ebebeb"/>
<text x="1918" y="761" text-anchor="middle" class="b">lamina</text>
<rect x="2451" y="754" width="156" height="72" fill="#ebebeb"/>
<text x="2529" y="802" text-anchor="middle" class="b">retina</text>

<g fill="none" stroke="#111" stroke-width="3.2">
<path d="M2786,449 L2838,457 Q2870,465 2871,523 L2871,690 Q2868,900 2800,1040 Q2720,1160 2594,1222"/>
<path d="M2542,1250 Q2420,1300 2290,1318 Q2258,1322 2253,1290 L2245,1232"/>
<line x1="2765" y1="1046" x2="2800" y2="1068"/>
<line x1="2340" y1="1186" x2="2372" y2="1208"/>
</g>
<text x="2775" y="360">anterior</text>
<text x="2808" y="1083">eye</text>
<text x="2376" y="1236">ommatidium</text>
<rect x="2150" y="1401" width="511" height="6" fill="#111"/>
<text x="2406" y="1455" text-anchor="middle" class="b">20 µm</text>
</svg>
</body></html>
